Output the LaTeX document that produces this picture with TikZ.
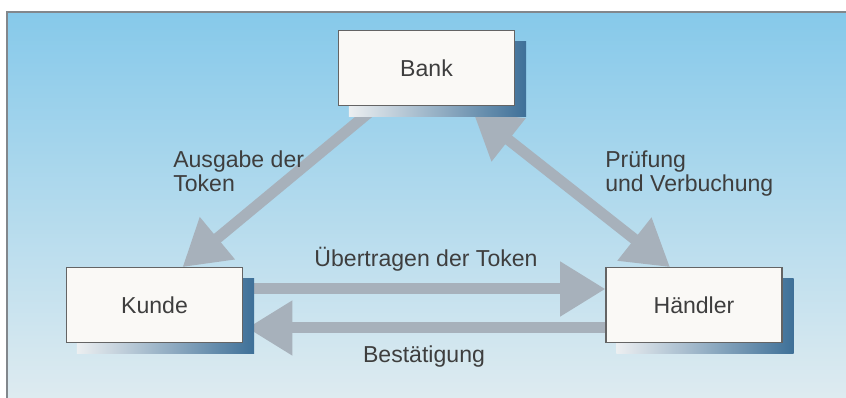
\documentclass[tikz,border=0pt]{standalone}
\usepackage{fontspec}
\setmainfont{Liberation Sans}
\usetikzlibrary{arrows.meta,backgrounds}
\definecolor{skytop}{RGB}{134,201,234}
\definecolor{skybottom}{RGB}{222,235,240}
\definecolor{framegray}{RGB}{130,135,140}
\definecolor{boxline}{RGB}{100,100,100}
\definecolor{boxfill}{RGB}{250,249,246}
\definecolor{shadowlight}{RGB}{236,239,241}
\definecolor{shadowdark}{RGB}{62,112,152}
\definecolor{flowgray}{RGB}{167,177,187}
\definecolor{inkgray}{RGB}{62,62,62}

\begin{document}
\begin{tikzpicture}[
        x=0.75pt, y=-0.75pt,
        font=\fontsize{17.3}{18}\selectfont,
        text=inkgray,
        party/.style ={fill=boxfill, draw=boxline, line width=0.8pt, minimum width=132pt, minimum height=56pt, inner sep=0pt},
        partyshadow/.style ={left color=shadowlight, right color=shadowdark},
        flow/.style ={draw=flowgray, line width=8.25pt, -{Triangle[length=34pt, width=39pt]}},
        twoflow/.style ={flow, {Triangle[length=34pt, width=39pt]}-{Triangle[length=34pt, width=39pt]}},
        caption/.style ={inner sep=0pt, align=left},
    ]
    \useasboundingbox (0,0) rectangle (846,398);

    \node[party] (bank) at (426.5,68) {Bank};
    \node[party] (kunde) at (154.5,305) {Kunde};
    \node[party] (haendler) at (694,305) {Händler};

    \node[caption, anchor=north west] (ausgabe) at (173,151) {Ausgabe der\\Token};
    \node[caption, anchor=north west] (pruefung) at (605,151) {Prüfung\\und Verbuchung};
    \node[caption, anchor=base] (uebertragen) at (426,267) {Übertragen der Token};
    \node[caption, anchor=base] (bestaetigung) at (424,363) {Bestätigung};

    \begin{scope}[on background layer]
        \fill[white] (0,0) rectangle (846,398);
        \shade[top color=skytop, bottom color=skybottom] (7,12) rectangle (846,398);
        \draw[framegray, line width=1pt] (7,398) -- (7,12) -- (846,12);

        \path[flow] ([shift={(39,0)}]bank.south west) -- ([shift={(28,0)}]kunde.north);
        \path[twoflow] ([shift={(-42,6)}]bank.south east) -- ([shift={(-24,0)}]haendler.north);
        \path[flow] ([shift={(11,-16)}]kunde.east) -- ([shift={(0,-16)}]haendler.west);
        \path[flow] ([shift={(0,23)}]haendler.west) -- ([shift={(4,23)}]kunde.east);

        \foreach \n in {bank,kunde,haendler}
            \shade[partyshadow] ([shift={(11,11)}]\n.south west) rectangle ([shift={(11,11)}]\n.north east);
    \end{scope}
\end{tikzpicture}
\end{document}
